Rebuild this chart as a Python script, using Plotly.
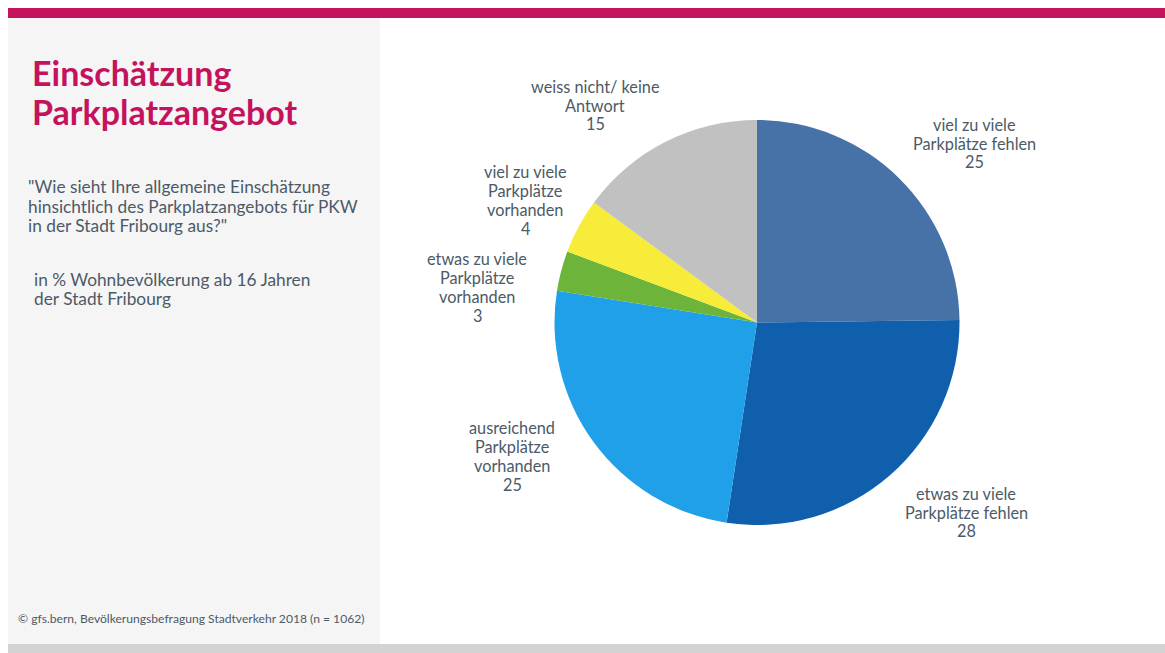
import plotly.graph_objects as go

W, H = 1165, 653

categories = [
    "viel zu viele<br>Parkplätze fehlen",
    "etwas zu viele<br>Parkplätze fehlen",
    "ausreichend<br>Parkplätze<br>vorhanden",
    "etwas zu viele<br>Parkplätze<br>vorhanden",
    "viel zu viele<br>Parkplätze<br>vorhanden",
    "weiss nicht/ keine<br>Antwort",
]
# shares as drawn (labels show them rounded)
values = [24.8, 27.6, 25.1, 3.2, 4.4, 14.9]
colors = ["#4672a7", "#0f5fad", "#1fa0e9", "#6cb43a", "#f8ec3a", "#c1c1c1"]

# label anchor positions (pixel centre of each label block)
label_pos = [(974, 143), (966, 512), (512, 456), (477, 287), (525, 200), (595, 105)]

title_lines = ["Einschätzung", "Parkplatzangebot"]
question_lines = [
    '"Wie sieht Ihre allgemeine Einschätzung',
    "hinsichtlich des Parkplatzangebots für PKW",
    'in der Stadt Fribourg aus?"',
]
base_lines = ["in % Wohnbevölkerung ab 16 Jahren", "der Stadt Fribourg"]
source = "© gfs.bern, Bevölkerungsbefragung Stadtverkehr 2018 (n = 1062)"

MAGENTA = "#c4135c"
TEXT = "#4c5a68"
FONT = "Lato"


def px(x):
    return x / W


def py(y):
    return 1 - y / H


fig = go.Figure()
fig.add_trace(go.Pie(
    labels=[c.replace("<br>", " ") for c in categories],
    values=values,
    marker=dict(colors=colors, line=dict(width=0)),
    sort=False,
    direction="clockwise",
    rotation=0,
    textinfo="none",
    hoverinfo="label+value",
    showlegend=False,
    domain=dict(x=[px(554), px(960)], y=[py(525), py(120)]),
))

shapes = [
    dict(type="rect", xref="paper", yref="paper", x0=px(8), x1=1, y0=py(18), y1=py(8),
         fillcolor=MAGENTA, line=dict(width=0), layer="below"),
    dict(type="rect", xref="paper", yref="paper", x0=px(8), x1=px(380), y0=py(644), y1=py(18),
         fillcolor="#f5f5f5", line=dict(width=0), layer="below"),
    dict(type="rect", xref="paper", yref="paper", x0=px(8), x1=1, y0=0, y1=py(644),
         fillcolor="#d3d3d3", line=dict(width=0), layer="below"),
]

annotations = []


def add_line(text, x, y, size, color, xanchor="left", bold=False):
    annotations.append(dict(
        text=f"<b>{text}</b>" if bold else text,
        x=px(x), y=py(y), xref="paper", yref="paper",
        xanchor=xanchor, yanchor="middle", showarrow=False, align=xanchor if xanchor != "center" else "center",
        font=dict(family=FONT, size=size, color=color),
    ))


LABEL_SPACING = 18.8
for cat, v, (lx, ly) in zip(categories, values, label_pos):
    lines = cat.split("<br>") + [f"{round(v)}"]
    n = len(lines)
    for i, ln in enumerate(lines):
        add_line(ln, lx, ly + (i - (n - 1) / 2) * LABEL_SPACING, 16.3, TEXT, xanchor="center")

for i, ln in enumerate(title_lines):
    add_line(ln, 30, 72 + i * 39.5, 34, MAGENTA, bold=True)

for i, ln in enumerate(question_lines):
    add_line(ln, 26, 186 + i * 20, 17.3, TEXT)

for i, ln in enumerate(base_lines):
    add_line(ln, 32, 279 + i * 20, 17.3, TEXT)

add_line(source, 16, 618, 12.1, TEXT)

fig.update_layout(
    width=W, height=H,
    margin=dict(l=0, r=0, t=0, b=0),
    paper_bgcolor="white", plot_bgcolor="white",
    shapes=shapes, annotations=annotations,
)

fig.write_html("out.html")
